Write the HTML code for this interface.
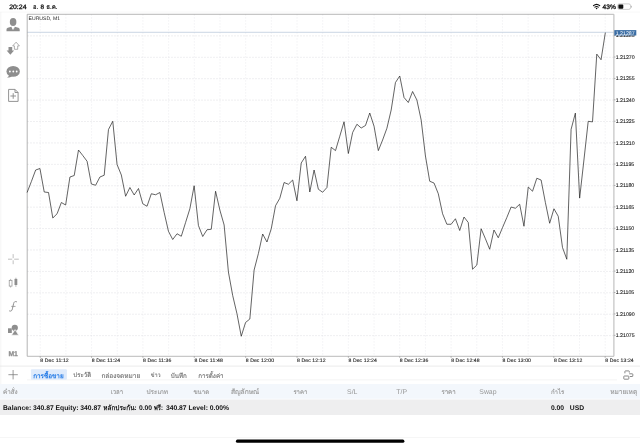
<!DOCTYPE html>
<html><head><meta charset="utf-8"><title>MetaTrader</title>
<style>html,body{margin:0;padding:0;background:#fff;overflow:hidden}svg{display:block;filter:blur(0.3px)}text{font-family:"Liberation Sans",sans-serif;text-rendering:geometricPrecision}</style>
</head><body>
<svg width="640" height="447" viewBox="0 0 640 447">
<rect width="640" height="447" fill="#fff"/>
<line x1="0" y1="12.1" x2="640" y2="12.1" stroke="#f1f1f1" stroke-width="0.6"/>
<line x1="0.8" y1="12" x2="0.8" y2="384" stroke="#ececec" stroke-width="0.6"/>
<path d="M40.20 14.3V356.3M65.88 14.3V356.3M91.56 14.3V356.3M117.24 14.3V356.3M142.92 14.3V356.3M168.60 14.3V356.3M194.28 14.3V356.3M219.96 14.3V356.3M245.64 14.3V356.3M271.32 14.3V356.3M297.00 14.3V356.3M322.68 14.3V356.3M348.36 14.3V356.3M374.04 14.3V356.3M399.72 14.3V356.3M425.40 14.3V356.3M451.08 14.3V356.3M476.76 14.3V356.3M502.44 14.3V356.3M528.12 14.3V356.3M553.80 14.3V356.3M579.48 14.3V356.3M605.16 14.3V356.3" stroke="#dedee4" stroke-width="0.5" stroke-dasharray="1.2 1.8" fill="none"/>
<path d="M27.2 35.89H613.9M27.2 57.30H613.9M27.2 78.71H613.9M27.2 100.12H613.9M27.2 121.53H613.9M27.2 142.94H613.9M27.2 164.35H613.9M27.2 185.76H613.9M27.2 207.17H613.9M27.2 228.58H613.9M27.2 249.99H613.9M27.2 271.40H613.9M27.2 292.81H613.9M27.2 314.22H613.9M27.2 335.63H613.9" stroke="#d6d6dc" stroke-width="0.5" stroke-dasharray="1.6 1.4" fill="none"/>
<line x1="27.2" y1="32.3" x2="613.9" y2="32.3" stroke="#bccbdc" stroke-width="0.8"/>
<path d="M27.2 14.3H613.9" stroke="#9a9a9a" stroke-width="0.7" fill="none"/>
<path d="M27.2 14.3V356.3" stroke="#9c9c9c" stroke-width="0.75" fill="none"/>
<path d="M27.2 356.3H613.9" stroke="#a8a8a8" stroke-width="0.8" fill="none"/>
<path d="M613.9 14.3V356.3" stroke="#bdbdbd" stroke-width="1.1" fill="none"/>
<polyline points="27.10,192.50 31.38,181.50 35.67,170.00 39.95,168.50 44.23,192.00 48.52,192.50 52.80,218.00 57.08,213.75 61.37,202.50 65.65,205.00 69.93,177.00 74.22,175.50 78.50,150.00 82.78,155.50 87.07,161.25 91.35,184.00 95.63,185.25 99.92,177.00 104.20,175.25 108.48,129.50 112.77,121.25 117.05,164.50 121.33,175.00 125.62,196.25 129.90,187.50 134.18,195.00 138.47,188.50 142.75,203.75 147.03,206.25 151.32,193.75 155.60,194.75 159.88,192.50 164.17,212.50 168.45,231.25 172.73,239.50 177.02,233.75 181.30,236.25 185.58,222.50 189.87,208.75 194.15,185.75 198.43,225.50 202.72,236.50 207.00,229.75 211.28,229.25 215.57,191.25 219.85,210.00 224.13,225.00 228.42,272.00 232.70,295.50 236.98,313.75 241.26,336.25 245.55,322.50 249.83,319.00 254.11,270.00 258.40,253.50 262.68,234.00 266.96,242.00 271.25,228.75 275.53,205.75 279.81,198.25 284.10,182.50 288.38,184.25 292.66,180.00 296.95,200.75 301.23,163.00 305.51,156.25 309.80,192.00 314.08,170.00 318.36,189.25 322.65,192.25 326.93,187.50 331.21,147.25 335.50,150.60 339.78,136.25 344.06,121.75 348.35,153.50 352.63,132.50 356.91,124.25 361.20,128.00 365.48,125.50 369.76,113.00 374.05,126.25 378.33,150.60 382.61,140.00 386.90,128.25 391.18,110.00 395.46,82.50 399.75,76.00 404.03,97.50 408.31,102.50 412.60,91.50 416.88,100.00 421.16,120.00 425.45,156.00 429.73,181.25 434.01,183.00 438.30,193.75 442.58,213.75 446.86,224.25 451.15,224.25 455.43,218.75 459.71,230.50 464.00,217.00 468.28,222.50 472.56,269.25 476.85,265.00 481.13,228.75 485.41,238.75 489.70,249.25 493.98,230.00 498.26,237.75 502.55,227.50 506.83,217.50 511.11,207.00 515.40,208.25 519.68,204.25 523.96,226.25 528.25,187.00 532.53,191.25 536.81,178.25 541.10,180.00 545.38,202.50 549.66,223.25 553.95,208.75 558.23,216.25 562.51,247.50 566.80,259.25 571.08,129.40 575.36,113.10 579.65,198.10 583.93,160.00 588.21,121.30 592.50,121.90 596.78,54.10 601.06,59.75 605.35,32.60" fill="none" stroke="#1a1a1a" stroke-width="0.68" stroke-linejoin="miter"/>
<text x="28.6" y="20.3" font-family="Liberation Sans, sans-serif" font-size="5.1" fill="#222">EURUSD, M1</text>
<line x1="613.9" y1="35.59" x2="615.5" y2="35.59" stroke="#777" stroke-width="0.5"/>
<text x="615.7" y="37.49" font-family="Liberation Sans, sans-serif" font-size="5.25" fill="#222" stroke="#222" stroke-width="0.1">1.21285</text>
<line x1="613.9" y1="57.00" x2="615.5" y2="57.00" stroke="#777" stroke-width="0.5"/>
<text x="615.7" y="58.90" font-family="Liberation Sans, sans-serif" font-size="5.25" fill="#222" stroke="#222" stroke-width="0.1">1.21270</text>
<line x1="613.9" y1="78.41" x2="615.5" y2="78.41" stroke="#777" stroke-width="0.5"/>
<text x="615.7" y="80.31" font-family="Liberation Sans, sans-serif" font-size="5.25" fill="#222" stroke="#222" stroke-width="0.1">1.21255</text>
<line x1="613.9" y1="99.82" x2="615.5" y2="99.82" stroke="#777" stroke-width="0.5"/>
<text x="615.7" y="101.72" font-family="Liberation Sans, sans-serif" font-size="5.25" fill="#222" stroke="#222" stroke-width="0.1">1.21240</text>
<line x1="613.9" y1="121.23" x2="615.5" y2="121.23" stroke="#777" stroke-width="0.5"/>
<text x="615.7" y="123.13" font-family="Liberation Sans, sans-serif" font-size="5.25" fill="#222" stroke="#222" stroke-width="0.1">1.21225</text>
<line x1="613.9" y1="142.64" x2="615.5" y2="142.64" stroke="#777" stroke-width="0.5"/>
<text x="615.7" y="144.54" font-family="Liberation Sans, sans-serif" font-size="5.25" fill="#222" stroke="#222" stroke-width="0.1">1.21210</text>
<line x1="613.9" y1="164.05" x2="615.5" y2="164.05" stroke="#777" stroke-width="0.5"/>
<text x="615.7" y="165.95" font-family="Liberation Sans, sans-serif" font-size="5.25" fill="#222" stroke="#222" stroke-width="0.1">1.21195</text>
<line x1="613.9" y1="185.46" x2="615.5" y2="185.46" stroke="#777" stroke-width="0.5"/>
<text x="615.7" y="187.36" font-family="Liberation Sans, sans-serif" font-size="5.25" fill="#222" stroke="#222" stroke-width="0.1">1.21180</text>
<line x1="613.9" y1="206.87" x2="615.5" y2="206.87" stroke="#777" stroke-width="0.5"/>
<text x="615.7" y="208.77" font-family="Liberation Sans, sans-serif" font-size="5.25" fill="#222" stroke="#222" stroke-width="0.1">1.21165</text>
<line x1="613.9" y1="228.28" x2="615.5" y2="228.28" stroke="#777" stroke-width="0.5"/>
<text x="615.7" y="230.18" font-family="Liberation Sans, sans-serif" font-size="5.25" fill="#222" stroke="#222" stroke-width="0.1">1.21150</text>
<line x1="613.9" y1="249.69" x2="615.5" y2="249.69" stroke="#777" stroke-width="0.5"/>
<text x="615.7" y="251.59" font-family="Liberation Sans, sans-serif" font-size="5.25" fill="#222" stroke="#222" stroke-width="0.1">1.21135</text>
<line x1="613.9" y1="271.10" x2="615.5" y2="271.10" stroke="#777" stroke-width="0.5"/>
<text x="615.7" y="273.00" font-family="Liberation Sans, sans-serif" font-size="5.25" fill="#222" stroke="#222" stroke-width="0.1">1.21120</text>
<line x1="613.9" y1="292.51" x2="615.5" y2="292.51" stroke="#777" stroke-width="0.5"/>
<text x="615.7" y="294.41" font-family="Liberation Sans, sans-serif" font-size="5.25" fill="#222" stroke="#222" stroke-width="0.1">1.21105</text>
<line x1="613.9" y1="313.92" x2="615.5" y2="313.92" stroke="#777" stroke-width="0.5"/>
<text x="615.7" y="315.82" font-family="Liberation Sans, sans-serif" font-size="5.25" fill="#222" stroke="#222" stroke-width="0.1">1.21090</text>
<line x1="613.9" y1="335.33" x2="615.5" y2="335.33" stroke="#777" stroke-width="0.5"/>
<text x="615.7" y="337.23" font-family="Liberation Sans, sans-serif" font-size="5.25" fill="#222" stroke="#222" stroke-width="0.1">1.21075</text>
<rect x="614.3" y="30.1" width="22" height="5.4" fill="#3b6ea5"/>
<text x="615.7" y="34.6" font-family="Liberation Sans, sans-serif" font-size="5.25" fill="#fff">1.21287</text>
<line x1="40.20" y1="356.3" x2="40.20" y2="357.90000000000003" stroke="#777" stroke-width="0.5"/>
<text x="40.30" y="362.25" font-family="Liberation Sans, sans-serif" font-size="5.1" fill="#222" stroke="#222" stroke-width="0.12" textLength="28.4" lengthAdjust="spacing">8 Dec 11:12</text>
<line x1="91.56" y1="356.3" x2="91.56" y2="357.90000000000003" stroke="#777" stroke-width="0.5"/>
<text x="91.66" y="362.25" font-family="Liberation Sans, sans-serif" font-size="5.1" fill="#222" stroke="#222" stroke-width="0.12" textLength="28.4" lengthAdjust="spacing">8 Dec 11:24</text>
<line x1="142.92" y1="356.3" x2="142.92" y2="357.90000000000003" stroke="#777" stroke-width="0.5"/>
<text x="143.02" y="362.25" font-family="Liberation Sans, sans-serif" font-size="5.1" fill="#222" stroke="#222" stroke-width="0.12" textLength="28.4" lengthAdjust="spacing">8 Dec 11:36</text>
<line x1="194.28" y1="356.3" x2="194.28" y2="357.90000000000003" stroke="#777" stroke-width="0.5"/>
<text x="194.38" y="362.25" font-family="Liberation Sans, sans-serif" font-size="5.1" fill="#222" stroke="#222" stroke-width="0.12" textLength="28.4" lengthAdjust="spacing">8 Dec 11:48</text>
<line x1="245.64" y1="356.3" x2="245.64" y2="357.90000000000003" stroke="#777" stroke-width="0.5"/>
<text x="245.74" y="362.25" font-family="Liberation Sans, sans-serif" font-size="5.1" fill="#222" stroke="#222" stroke-width="0.12" textLength="28.4" lengthAdjust="spacing">8 Dec 12:00</text>
<line x1="297.00" y1="356.3" x2="297.00" y2="357.90000000000003" stroke="#777" stroke-width="0.5"/>
<text x="297.10" y="362.25" font-family="Liberation Sans, sans-serif" font-size="5.1" fill="#222" stroke="#222" stroke-width="0.12" textLength="28.4" lengthAdjust="spacing">8 Dec 12:12</text>
<line x1="348.36" y1="356.3" x2="348.36" y2="357.90000000000003" stroke="#777" stroke-width="0.5"/>
<text x="348.46" y="362.25" font-family="Liberation Sans, sans-serif" font-size="5.1" fill="#222" stroke="#222" stroke-width="0.12" textLength="28.4" lengthAdjust="spacing">8 Dec 12:24</text>
<line x1="399.72" y1="356.3" x2="399.72" y2="357.90000000000003" stroke="#777" stroke-width="0.5"/>
<text x="399.82" y="362.25" font-family="Liberation Sans, sans-serif" font-size="5.1" fill="#222" stroke="#222" stroke-width="0.12" textLength="28.4" lengthAdjust="spacing">8 Dec 12:36</text>
<line x1="451.08" y1="356.3" x2="451.08" y2="357.90000000000003" stroke="#777" stroke-width="0.5"/>
<text x="451.18" y="362.25" font-family="Liberation Sans, sans-serif" font-size="5.1" fill="#222" stroke="#222" stroke-width="0.12" textLength="28.4" lengthAdjust="spacing">8 Dec 12:48</text>
<line x1="502.44" y1="356.3" x2="502.44" y2="357.90000000000003" stroke="#777" stroke-width="0.5"/>
<text x="502.54" y="362.25" font-family="Liberation Sans, sans-serif" font-size="5.1" fill="#222" stroke="#222" stroke-width="0.12" textLength="28.4" lengthAdjust="spacing">8 Dec 13:00</text>
<line x1="553.80" y1="356.3" x2="553.80" y2="357.90000000000003" stroke="#777" stroke-width="0.5"/>
<text x="553.90" y="362.25" font-family="Liberation Sans, sans-serif" font-size="5.1" fill="#222" stroke="#222" stroke-width="0.12" textLength="28.4" lengthAdjust="spacing">8 Dec 13:12</text>
<line x1="605.16" y1="356.3" x2="605.16" y2="357.90000000000003" stroke="#777" stroke-width="0.5"/>
<text x="605.26" y="362.25" font-family="Liberation Sans, sans-serif" font-size="5.1" fill="#222" stroke="#222" stroke-width="0.12" textLength="28.4" lengthAdjust="spacing">8 Dec 13:24</text>
<text x="9.2" y="8.85" font-family="Liberation Sans, sans-serif" font-size="6.3" fill="#111" stroke="#111" stroke-width="0.28" textLength="17.3" lengthAdjust="spacingAndGlyphs">20:24</text>
<text x="33.0" y="8.99" font-family="Liberation Sans, sans-serif" font-size="6.6" fill="#111" stroke="#111" stroke-width="0.2" textLength="5.1" lengthAdjust="spacingAndGlyphs">อ.</text>
<text x="40.5" y="8.85" font-family="Liberation Sans, sans-serif" font-size="6.3" fill="#111" stroke="#111" stroke-width="0.28">8</text>
<text x="46.2" y="8.89" font-family="Liberation Sans, sans-serif" font-size="6.6" fill="#111" stroke="#111" stroke-width="0.2" textLength="11.3" lengthAdjust="spacingAndGlyphs">ธ.ค.</text>
<text x="602.6" y="8.9" font-family="Liberation Sans, sans-serif" font-size="6.4" fill="#111" stroke="#111" stroke-width="0.28" textLength="13.3" lengthAdjust="spacingAndGlyphs">43%</text>
<g fill="none" stroke="#111" stroke-linecap="round"><path d="M593.5 5.7A4.6 4.6 0 0 1 599.7 5.7" stroke-width="1.15"/><path d="M594.9 7.15A2.7 2.7 0 0 1 598.3 7.15" stroke-width="1.1"/></g><circle cx="596.6" cy="8.5" r="0.8" fill="#111"/>
<rect x="617.7" y="3.9" width="12.8" height="5.5" rx="1.6" fill="none" stroke="#a5a5a5" stroke-width="0.55"/>
<path d="M631.1 5.6v2.1a1.1 1.1 0 0 0 0-2.1z" fill="#a5a5a5"/>
<rect x="618.4" y="4.6" width="4.9" height="4.1" rx="0.9" fill="#111"/>
<ellipse cx="13.1" cy="22.1" rx="3.3" ry="4.0" fill="#8e8e8e"/>
<path d="M6.5 31.3v-1.6c0-1.2 0.8-1.7 2.2-2.1l2.7-0.8 1.3 3.2 0.4-2.2 0.4 2.2 1.3-3.2 2.7 0.8c1.4 0.4 2.2 0.9 2.2 2.1v1.6z" fill="#8e8e8e"/>
<path d="M16.1 42.2l3.3 3.7h-1.7v3.4h-3.3v-3.4h-1.7z" fill="none" stroke="#8e8e8e" stroke-width="0.7" stroke-linejoin="round"/>
<path d="M8.5 47.1h3.7v3.5h1.9l-3.75 4.2-3.75-4.2h1.9z" fill="#8e8e8e"/>
<ellipse cx="13.15" cy="71.4" rx="6.7" ry="5.4" fill="#8e8e8e"/><path d="M9.5 74.5c-0.3 1.5-1.2 2.4-2.6 3 2 0.2 3.9-0.4 5.2-1.6z" fill="#8e8e8e"/>
<circle cx="9.9" cy="71.5" r="0.9" fill="#fff"/><circle cx="13.3" cy="71.5" r="0.9" fill="#fff"/><circle cx="16.7" cy="71.5" r="0.9" fill="#fff"/>
<path d="M8.6 89.4h6.4l3.1 3.1v8.9h-9.5zM15 89.4v3.1h3.1" fill="none" stroke="#8e8e8e" stroke-width="0.95" stroke-linejoin="round"/>
<path d="M10.4 96h5.6M13.2 93.2v5.6" stroke="#8e8e8e" stroke-width="0.95" fill="none"/>
<path d="M8 259.2h4.2M14.2 259.2h4.6M13.15 254.1v4.1M13.15 260.3v3.9" stroke="#8c8c8c" stroke-width="0.55" fill="none"/>
<path d="M10.6 278.9v1.4M10.6 286.1v1.5" stroke="#8e8e8e" stroke-width="0.6"/><rect x="9.2" y="280.3" width="2.8" height="5.8" fill="none" stroke="#8e8e8e" stroke-width="0.7"/>
<path d="M15.9 277.7v9.2" stroke="#8e8e8e" stroke-width="0.6"/><rect x="14.5" y="278.9" width="2.8" height="6.1" fill="#8e8e8e"/>
<path d="M9.6 311c1.6 0.6 2.4-0.4 2.8-2.2l1.2-5.2c0.4-1.7 1.3-2.5 2.9-1.9" fill="none" stroke="#8e8e8e" stroke-width="1.0" stroke-linecap="round"/><path d="M11.3 306.4h4.2" stroke="#8e8e8e" stroke-width="0.8"/>
<circle cx="14.8" cy="327.8" r="3.1" fill="#8e8e8e"/><rect x="8" y="328.3" width="3.8" height="4.7" fill="#8e8e8e"/>
<path d="M15.1 329.6l3.6 5.6h-7.2z" fill="#8e8e8e" stroke="#fff" stroke-width="0.7"/>
<text x="8.4" y="355.9" font-family="Liberation Sans, sans-serif" font-size="6.8" font-weight="bold" fill="#8e8e8e" stroke="#8e8e8e" stroke-width="0.25">M1</text>
<line x1="0" y1="366.1" x2="640" y2="366.1" stroke="#e2e2e2" stroke-width="0.7"/>
<line x1="27" y1="379.9" x2="617" y2="379.9" stroke="#ececec" stroke-width="0.6"/>
<path d="M8.4 374.7h9.4M13.1 370v9.4" stroke="#7a7a7a" stroke-width="0.75" fill="none"/>
<rect x="30.9" y="369.3" width="36" height="10.5" rx="1" fill="#deeafb"/>
<text x="33.2" y="377.51" font-family="Liberation Sans, sans-serif" font-size="6.5" font-weight="bold" fill="#1f78e6" textLength="30.4" lengthAdjust="spacingAndGlyphs">การซื้อขาย</text>
<text x="73.3" y="377.48" font-family="Liberation Sans, sans-serif" font-size="6.4" fill="#787878" stroke="#787878" stroke-width="0.16" textLength="17.8" lengthAdjust="spacingAndGlyphs">ประวัติ</text>
<text x="101.4" y="377.56" font-family="Liberation Sans, sans-serif" font-size="6.6" fill="#787878" stroke="#787878" stroke-width="0.16" textLength="38.9" lengthAdjust="spacingAndGlyphs">กล่องจดหมาย</text>
<text x="150.7" y="377.35" font-family="Liberation Sans, sans-serif" font-size="6" fill="#787878" stroke="#787878" stroke-width="0.16" textLength="9.9" lengthAdjust="spacingAndGlyphs">ข่าว</text>
<text x="170.7" y="377.53" font-family="Liberation Sans, sans-serif" font-size="6.5" fill="#787878" stroke="#787878" stroke-width="0.16" textLength="16.1" lengthAdjust="spacingAndGlyphs">บันทึก</text>
<text x="198.2" y="377.52" font-family="Liberation Sans, sans-serif" font-size="6.5" fill="#787878" stroke="#787878" stroke-width="0.16" textLength="25.4" lengthAdjust="spacingAndGlyphs">การตั้งค่า</text>
<path d="M624.9 373.3V371.4a0.5 0.5 0 0 1 0.5-0.5H628.8a0.5 0.5 0 0 1 0.5 0.5V372.6M629.2 373.8H632.3a0.5 0.5 0 0 1 0.5 0.5V376a0.5 0.5 0 0 1-0.5 0.5H629.9" fill="none" stroke="#7c7c7c" stroke-width="0.9"/>
<rect x="623.8" y="376" width="5" height="3.2" rx="0.5" fill="none" stroke="#7c7c7c" stroke-width="0.9"/>
<rect x="0" y="384" width="640" height="14.7" fill="#f3f7fc"/>
<text x="3.0" y="393.78" font-family="Liberation Sans, sans-serif" font-size="6.7" fill="#979797" stroke="#979797" stroke-width="0.14" textLength="14.6" lengthAdjust="spacingAndGlyphs">คำสั่ง</text>
<text x="110.7" y="393.73" font-family="Liberation Sans, sans-serif" font-size="6.5" fill="#979797" stroke="#979797" stroke-width="0.14" textLength="12.4" lengthAdjust="spacingAndGlyphs">เวลา</text>
<text x="146.4" y="393.77" font-family="Liberation Sans, sans-serif" font-size="6.7" fill="#979797" stroke="#979797" stroke-width="0.14" textLength="21.7" lengthAdjust="spacingAndGlyphs">ประเภท</text>
<text x="193.4" y="393.69" font-family="Liberation Sans, sans-serif" font-size="6.4" fill="#979797" stroke="#979797" stroke-width="0.14" textLength="15.7" lengthAdjust="spacingAndGlyphs">ขนาด</text>
<text x="230.9" y="393.81" font-family="Liberation Sans, sans-serif" font-size="6.8" fill="#979797" stroke="#979797" stroke-width="0.14" textLength="28.4" lengthAdjust="spacingAndGlyphs">สัญลักษณ์</text>
<text x="293.4" y="393.69" font-family="Liberation Sans, sans-serif" font-size="6.4" fill="#979797" stroke="#979797" stroke-width="0.14" textLength="13.9" lengthAdjust="spacingAndGlyphs">ราคา</text>
<text x="347.1" y="394.1" font-family="Liberation Sans, sans-serif" font-size="6.9" fill="#979797">S/L</text>
<text x="396.3" y="394.1" font-family="Liberation Sans, sans-serif" font-size="6.9" fill="#979797">T/P</text>
<text x="441.4" y="393.72" font-family="Liberation Sans, sans-serif" font-size="6.5" fill="#979797" stroke="#979797" stroke-width="0.14" textLength="14.2" lengthAdjust="spacingAndGlyphs">ราคา</text>
<text x="479.3" y="394.1" font-family="Liberation Sans, sans-serif" font-size="6.9" fill="#979797">Swap</text>
<text x="550.9" y="393.67" font-family="Liberation Sans, sans-serif" font-size="6.3" fill="#979797" stroke="#979797" stroke-width="0.14" textLength="13.4" lengthAdjust="spacingAndGlyphs">กำไร</text>
<text x="610.2" y="393.80" font-family="Liberation Sans, sans-serif" font-size="6.8" fill="#979797" stroke="#979797" stroke-width="0.14" textLength="27" lengthAdjust="spacingAndGlyphs">หมายเหตุ</text>
<rect x="0" y="399.5" width="640" height="15.5" fill="#eeeeef"/>
<text x="3.0" y="409.9" font-family="Liberation Sans, sans-serif" font-size="6.75" font-weight="bold" fill="#111">Balance: 340.87 Equity: 340.87</text>
<text x="103.3" y="409.75" font-family="Liberation Sans, sans-serif" font-size="6.75" font-weight="bold" fill="#111" textLength="33.4" lengthAdjust="spacingAndGlyphs">หลักประกัน:</text>
<text x="138.9" y="409.9" font-family="Liberation Sans, sans-serif" font-size="6.75" font-weight="bold" fill="#111">0.00</text>
<text x="153.7" y="409.75" font-family="Liberation Sans, sans-serif" font-size="6.75" font-weight="bold" fill="#111" textLength="9.2" lengthAdjust="spacingAndGlyphs">ฟรี:</text>
<text x="165.9" y="409.9" font-family="Liberation Sans, sans-serif" font-size="6.75" font-weight="bold" fill="#111">340.87 Level: 0.00%</text>
<text x="550.9" y="410.29999999999995" font-family="Liberation Sans, sans-serif" font-size="6.75" font-weight="bold" fill="#111">0.00</text>
<text x="569.8" y="410.29999999999995" font-family="Liberation Sans, sans-serif" font-size="6.75" font-weight="bold" fill="#111">USD</text>
<line x1="0" y1="437.5" x2="640" y2="437.5" stroke="#f0f0f0" stroke-width="0.6"/>
<rect x="235.9" y="439.6" width="168.5" height="3.1" rx="1.55" fill="#000"/>
</svg>
</body></html>
